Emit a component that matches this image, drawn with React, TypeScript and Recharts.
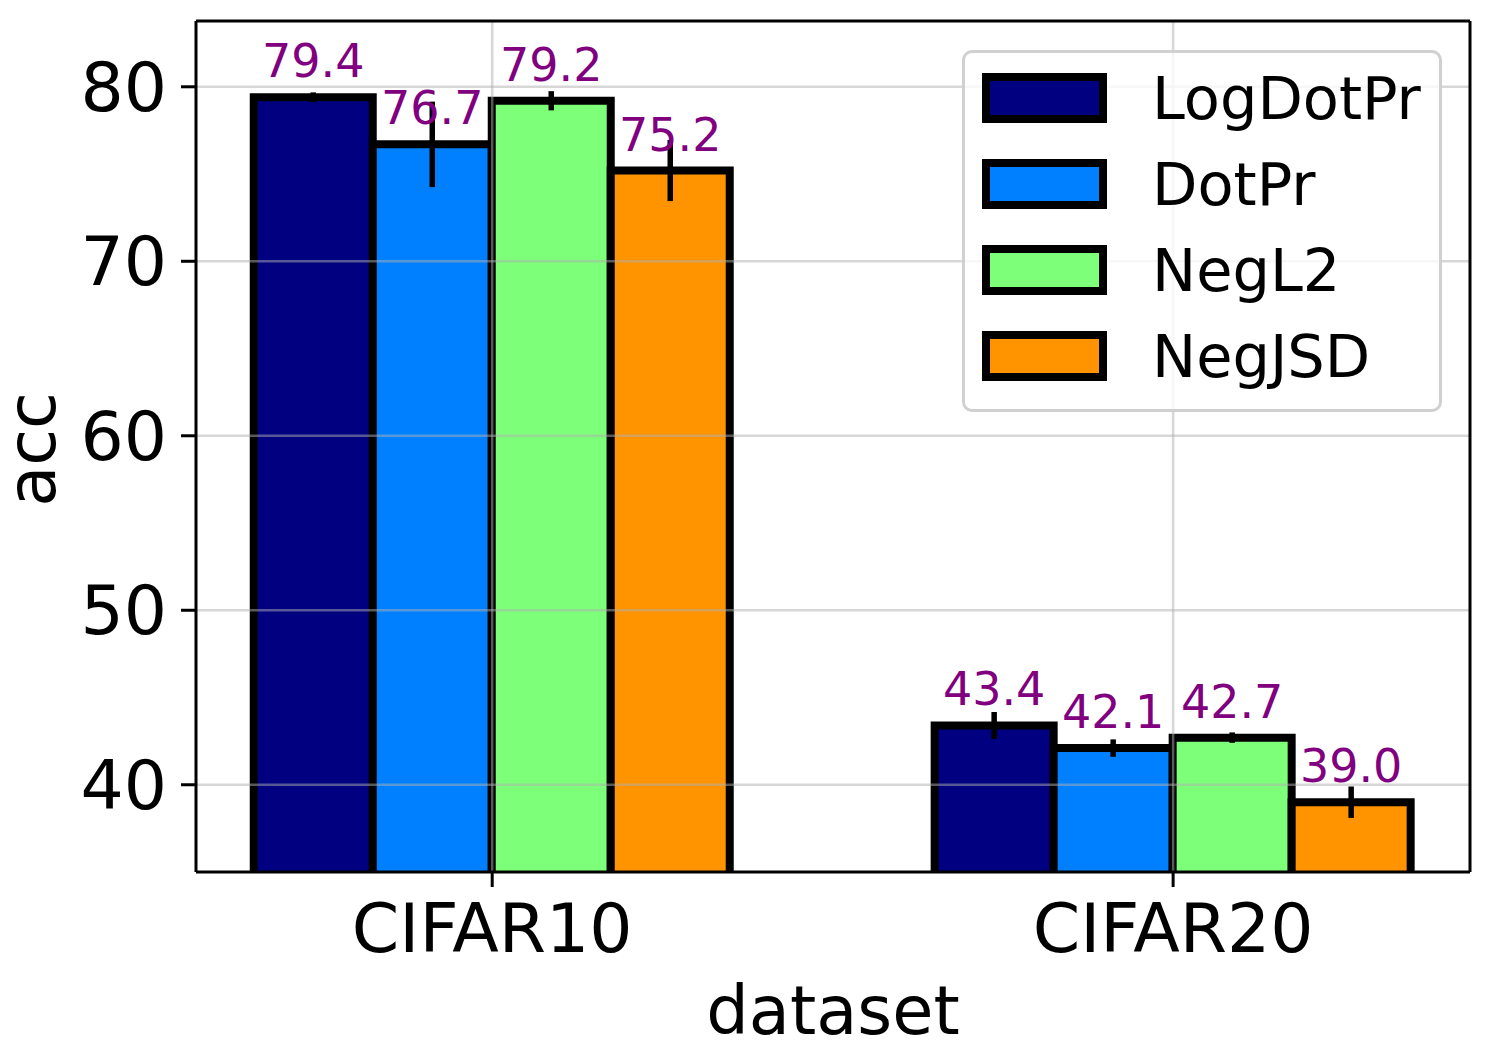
import { BarChart, Bar, XAxis, YAxis, ErrorBar, LabelList, ReferenceLine, Legend } from "recharts";

const CATEGORIES = ["CIFAR10", "CIFAR20"];
const SERIES = ["LogDotPr", "DotPr", "NegL2", "NegJSD"];
const COLORS = ["#000080", "#0080ff", "#7dff7a", "#ff9400"];

const LOG_DOT_PR = [79.4, 43.4];
const DOT_PR = [76.7, 42.1];
const NEG_L2 = [79.2, 42.7];
const NEG_JSD = [75.2, 39.0];

const LOG_DOT_PR_ERR = [0.28, 0.77];
const DOT_PR_ERR = [2.45, 0.5];
const NEG_L2_ERR = [0.55, 0.3];
const NEG_JSD_ERR = [1.75, 0.9];

const Y_TICKS = [40, 50, 60, 70, 80];
const X_TICKS = [0, 1];
const Y_DOMAIN = [35, 83.77];
const X_DOMAIN = [-0.435, 1.436];

const VALUES = [LOG_DOT_PR, DOT_PR, NEG_L2, NEG_JSD];
const ERRORS = [LOG_DOT_PR_ERR, DOT_PR_ERR, NEG_L2_ERR, NEG_JSD_ERR];

const data = CATEGORIES.map((name, i) => {
  const row: Record<string, number | string> = { idx: i, name };
  SERIES.forEach((s, j) => {
    row[s] = VALUES[j][i];
    row[s + "_err"] = ERRORS[j][i];
  });
  return row;
});

const FONT = "'DejaVu Sans', sans-serif";
const GRID = { stroke: "#b0b0b0", strokeOpacity: 0.5, strokeWidth: 2.5 };

// bar with an open bottom, like matplotlib clipping the bar at the axis
function EdgeBar(props: any) {
  const { x, y, width, height, fill } = props;
  if (height == null || height <= 0) return null;
  return (
    <g>
      <rect x={x} y={y} width={width} height={height} fill={fill} />
      <path
        d={`M${x},${y + height} L${x},${y} L${x + width},${y} L${x + width},${y + height}`}
        fill="none"
        stroke="#000"
        strokeWidth={8}
      />
    </g>
  );
}

function renderLegend() {
  return (
    <div
      style={{
        boxSizing: "border-box",
        width: 480,
        height: 362,
        border: "3px solid #d0d0d0",
        borderRadius: 10,
        background: "rgba(255,255,255,0.8)",
        padding: "2px 0 0 17px",
        fontFamily: FONT,
      }}
    >
      {SERIES.map((s, i) => (
        <div key={s} style={{ display: "flex", alignItems: "center", height: 86 }}>
          <div
            style={{
              boxSizing: "border-box",
              width: 125,
              height: 50,
              border: "8px solid #000",
              background: COLORS[i],
            }}
          />
          <span style={{ marginLeft: 45, fontSize: 59, lineHeight: 1, color: "#000" }}>{s}</span>
        </div>
      ))}
    </div>
  );
}

export default function App() {
  return (
    <div style={{ position: "absolute", left: 0, top: 0, width: 1500, height: 1050, background: "#fff", fontFamily: FONT }}>
      <BarChart
        width={1500}
        height={1050}
        data={data}
        margin={{ top: 21, right: 30, left: 96, bottom: 78 }}
        barSize={119}
        barGap={0}
      >
        <XAxis
          type="number"
          dataKey="idx"
          domain={X_DOMAIN}
          ticks={X_TICKS}
          allowDataOverflow
          tickFormatter={(v: number) => CATEGORIES[v]}
          height={100}
          tickSize={15}
          tickMargin={17}
          stroke="#000"
          axisLine={{ stroke: "#000", strokeWidth: 3 }}
          tickLine={{ stroke: "#000", strokeWidth: 3 }}
          tick={{ fill: "#000", fontSize: 68 }}
          label={(p: any) => (
            <text
              x={p.viewBox.x + p.viewBox.width / 2}
              y={1034}
              textAnchor="middle"
              fontSize={67}
              fill="#000"
            >
              dataset
            </text>
          )}
        />
        <YAxis
          type="number"
          domain={Y_DOMAIN}
          ticks={Y_TICKS}
          allowDataOverflow
          width={100}
          tickSize={15}
          tickMargin={14}
          axisLine={{ stroke: "#000", strokeWidth: 3 }}
          tickLine={{ stroke: "#000", strokeWidth: 3 }}
          tick={{ fill: "#000", fontSize: 68 }}
          label={(p: any) => {
            const cx = 55;
            const cy = p.viewBox.y + p.viewBox.height / 2 + 3;
            return (
              <text x={cx} y={cy} textAnchor="middle" fontSize={67} fill="#000" transform={`rotate(-90 ${cx} ${cy})`}>
                acc
              </text>
            );
          }}
        />
        {SERIES.map((s, i) => (
          <Bar key={s} dataKey={s} name={s} fill={COLORS[i]} shape={EdgeBar} isAnimationActive={false}>
            <ErrorBar dataKey={s + "_err"} width={0} stroke="#000" strokeWidth={5.5} direction="y" />
            <LabelList
              dataKey={s}
              position="top"
              offset={20}
              fill="#800080"
              fontSize={46}
              formatter={(v: any) => Number(v).toFixed(1)}
            />
          </Bar>
        ))}
        {Y_TICKS.map((t) => (
          <ReferenceLine key={"gy" + t} y={t} {...GRID} />
        ))}
        {X_TICKS.map((t) => (
          <ReferenceLine key={"gx" + t} x={t} {...GRID} />
        ))}
        <ReferenceLine y={Y_DOMAIN[1]} stroke="#000" strokeWidth={3} />
        <ReferenceLine x={X_DOMAIN[1]} stroke="#000" strokeWidth={3} />
        <Legend
          content={renderLegend}
          layout="horizontal"
          verticalAlign="middle"
          align="center"
          wrapperStyle={{ left: 962, top: 50, width: 480, height: 362 }}
        />
      </BarChart>
    </div>
  );
}
